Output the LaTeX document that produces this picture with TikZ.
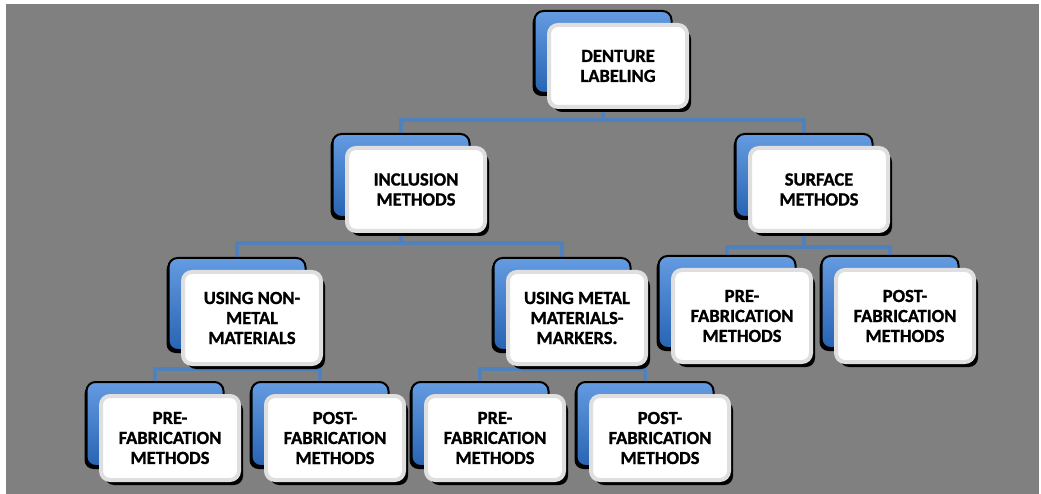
\documentclass[tikz,border=0pt]{standalone}
\usepackage{fontspec}
\setmainfont{Carlito}[BoldFeatures={FakeBold=1.2}]
\usetikzlibrary{calc,shadows}
\pgfdeclarelayer{bg}
\pgfdeclarelayer{conn}
\pgfsetlayers{bg,conn,main}
\definecolor{bggray}{RGB}{128,128,128}
\definecolor{connblue}{RGB}{79,129,189}
\definecolor{cardtop}{RGB}{100,155,225}
\definecolor{cardbot}{RGB}{40,100,180}
\tikzset{
  backcard/.style={rounded corners=9pt, minimum width=137pt, top color=cardtop, bottom color=cardbot,
    draw=black, line width=2pt, inner sep=0pt,
    drop shadow={shadow xshift=-2pt, shadow yshift=-3pt, fill=black, opacity=1}},
  frontcard/.style={rounded corners=9pt, minimum width=138pt, fill=white, draw=gray!25, line width=4pt,
    drop shadow={shadow xshift=4pt, shadow yshift=-5pt, fill=black, opacity=1},
    align=center, font=\fontsize{18.5}{20}\selectfont\bfseries, inner sep=0pt},
  conn/.style={draw=connblue, line width=4.5pt},
}
\newcommand\dcard[5]{%
  \node[backcard, minimum height=#4pt, anchor=north] (#1b) at (#2,#3) {};
  \node[frontcard, minimum height=#4pt, anchor=north] (#1) at ($(#1b.north)+(15,13)$) {#5};
}
\begin{document}
\begin{tikzpicture}[x=1pt,y=-1pt]
\useasboundingbox (0,0) rectangle (1041,494);
\begin{pgfonlayer}{bg}
  \fill[white] (0,0) rectangle (1041,494);
  \fill[bggray] (6,4) rectangle (1039,494);
\end{pgfonlayer}
\coordinate (y1) at (0,120);
\coordinate (y2) at (0,243);
\coordinate (y2s) at (0,247);
\coordinate (y3) at (0,369);

\dcard{root}{603}{10}{82}{DENTURE\\LABELING}
\dcard{incl}{401}{133}{83}{INCLUSION\\METHODS}
\dcard{surf}{804}{133}{83}{SURFACE\\METHODS}
\dcard{nm}{237}{257}{92}{USING NON-\\METAL\\MATERIALS}
\dcard{m}{562}{257}{92}{USING METAL\\MATERIALS-\\MARKERS.}
\dcard{sp}{727}{255}{92}{PRE-\\FABRICATION\\METHODS}
\dcard{spo}{890}{255}{92}{POST-\\FABRICATION\\METHODS}
\dcard{nmp}{155}{381}{84}{PRE-\\FABRICATION\\METHODS}
\dcard{nmpo}{320}{381}{84}{POST-\\FABRICATION\\METHODS}
\dcard{mp}{480}{381}{84}{PRE-\\FABRICATION\\METHODS}
\dcard{mpo}{645}{381}{84}{POST-\\FABRICATION\\METHODS}

\begin{pgfonlayer}{conn}
  \draw[conn] (rootb.center) -- (rootb |- y1) -| (inclb.center);
  \draw[conn] (rootb |- y1) -| (surfb.center);
  \draw[conn] (inclb.center) -- (inclb |- y2) -| (nmb.center);
  \draw[conn] (inclb |- y2) -| (mb.center);
  \draw[conn] (surfb.center) -- (surfb |- y2s) -| (spb.center);
  \draw[conn] (surfb |- y2s) -| (spob.center);
  \draw[conn] (nmb.center) -- (nmb |- y3) -| (nmpb.center);
  \draw[conn] (nmb |- y3) -| (nmpob.center);
  \draw[conn] (mb.center) -- (mb |- y3) -| (mpb.center);
  \draw[conn] (mb |- y3) -| (mpob.center);
\end{pgfonlayer}
\end{tikzpicture}
\end{document}
